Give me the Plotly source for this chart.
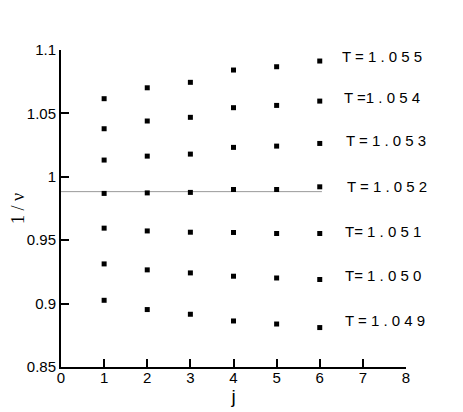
import plotly.graph_objects as go

j = [1, 2, 3, 4, 5, 6]

t_labels = ["T = 1 . 0 5 5", "T =1 . 0 5 4", "T = 1 . 0 5 3", "T = 1 . 0 5 2",
            "T= 1 . 0 5 1", "T= 1 . 0 5 0", "T = 1 . 0 4 9"]

inv_nu = [
    [1.0616, 1.0702, 1.0745, 1.0842, 1.0868, 1.0913],  # T=1.055
    [1.0379, 1.0440, 1.0469, 1.0545, 1.0563, 1.0597],  # T=1.054
    [1.0132, 1.0163, 1.0179, 1.0232, 1.0242, 1.0263],  # T=1.053
    [0.9869, 0.9873, 0.9877, 0.9900, 0.9900, 0.9921],  # T=1.052
    [0.9595, 0.9573, 0.9563, 0.9561, 0.9553, 0.9553],  # T=1.051
    [0.9313, 0.9266, 0.9242, 0.9216, 0.9202, 0.9190],  # T=1.050
    [0.9026, 0.8953, 0.8916, 0.8863, 0.8839, 0.8811],  # T=1.049
]

ref_line_x = [0, 6.05]
ref_line_y = [0.9883, 0.9883]

label_xshift = [20, 22, 24, 25, 23, 23, 23]
label_yshift = [5, 4, 3, 0, 2, 4, 7]

fig = go.Figure()
fig.add_trace(go.Scatter(x=ref_line_x, y=ref_line_y, mode="lines",
                         line=dict(color="#9a9a9a", width=1), hoverinfo="skip"))

for vals in inv_nu:
    fig.add_trace(go.Scatter(x=j, y=vals, mode="markers",
                             marker=dict(symbol="square", size=5, color="black")))

for lab, vals, dx, dy in zip(t_labels, inv_nu, label_xshift, label_yshift):
    fig.add_annotation(x=j[-1], y=vals[-1], text=lab, showarrow=False,
                       xanchor="left", yanchor="middle", xshift=dx, yshift=dy,
                       font=dict(family="Liberation Sans", size=15, color="black"))

axis_style = dict(
    showline=True, linecolor="black", linewidth=2, mirror=False,
    ticks="inside", ticklen=8, tickwidth=1.5, tickcolor="black",
    showgrid=False, zeroline=False, automargin=False,
    tickfont=dict(family="Liberation Sans", size=15, color="black"),
)

fig.update_xaxes(range=[0, 8], dtick=1, ticklabelstandoff=-4,
                 title=dict(text="j", standoff=0,
                            font=dict(family="Liberation Sans", size=19, color="black")),
                 **axis_style)
fig.update_yaxes(range=[0.85, 1.1], dtick=0.05, tickformat="~g",
                 title=dict(text="1 / ν", standoff=4,
                            font=dict(family="Liberation Serif", size=18, color="black")),
                 **axis_style)

# page body adds an 8px offset, so the figure is a bit smaller than the window
fig.update_layout(
    width=455, height=404,
    showlegend=False,
    plot_bgcolor="white",
    paper_bgcolor="white",
    margin=dict(l=53, r=57, t=42, b=45),
)

fig.write_html("out.html")
